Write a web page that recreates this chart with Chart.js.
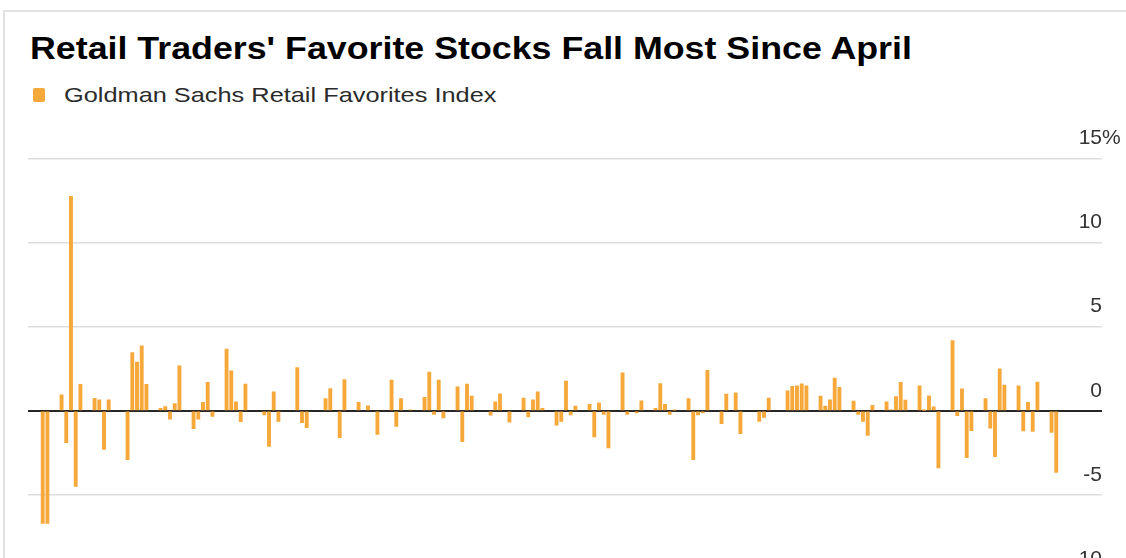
<!DOCTYPE html>
<html>
<head>
<meta charset="utf-8">
<script src="https://cdn.jsdelivr.net/npm/chart.js@4"></script>
<style>
  html, body { margin: 0; padding: 0; background: #fff; width: 1126px; height: 558px; overflow: hidden; }
  #frame { position: absolute; left: 3px; top: 10px; width: 1200px; height: 700px;
           border-top: 2px solid #e2e2e2; border-left: 2px solid #e2e2e2; }
  #title { position: absolute; left: 30px; top: 32px; font: bold 32px "Liberation Sans", Arial, sans-serif;
           line-height: 32px; color: #000; white-space: nowrap; transform-origin: 0 0; }
  #key { position: absolute; left: 33px; top: 88px; width: 12px; height: 14px; border-radius: 2px; }
  #keyText { position: absolute; left: 64px; top: 84px; font: 21px "Liberation Sans", Arial, sans-serif;
             line-height: 21px; color: #2b2b2b; white-space: nowrap; transform-origin: 0 0; }
  canvas { position: absolute; left: 0; top: 0; }
</style>
</head>
<body>
<div id="frame"></div>
<div id="title"></div>
<div id="key"></div>
<div id="keyText"></div>
<canvas id="chart" width="1126" height="600"></canvas>
<script>
const chartTitle = "Retail Traders' Favorite Stocks Fall Most Since April";
const seriesName = 'Goldman Sachs Retail Favorites Index';
const barColor = 'rgb(246,168,58)';

// one slot per calendar day, weekends empty; the first day is a Thursday
const dailyChange = [
  -6.7, -6.7, null, null,
  0.95, -1.9, 12.75, -4.5, 1.58, null, null,
  0.74, 0.65, -2.3, 0.65, null, null, null,
  -2.9, 3.46, 2.9, 3.86, 1.58, null, null,
  0.15, 0.25, -0.5, 0.43, 2.67, null, null,
  -1.06, -0.5, 0.5, 1.69, -0.34, null, null,
  3.67, 2.38, 0.54, -0.65, 1.59, null, null,
  null, -0.24, -2.12, 1.13, -0.63, null, null,
  null, 2.57, -0.7, -1.0, null, null, null,
  0.73, 1.32, null, -1.6, 1.86, null, null,
  0.5, null, 0.3, null, -1.4, null, null,
  1.82, -0.93, 0.73, null, 0.05, null, null,
  0.8, 2.3, -0.22, 1.83, -0.42, null, null,
  1.43, -1.83, 1.59, 0.87, null, null, null,
  -0.26, 0.54, 1.01, null, -0.68, null, null,
  0.75, -0.37, 0.65, 1.13, 0.14, null, null,
  -0.86, -0.63, 1.77, -0.24, 0.28, null, null,
  0.38, -1.56, 0.48, -0.22, -2.2, null, null,
  2.26, -0.22, null, -0.12, 0.59, null, null,
  0.14, 1.62, 0.38, -0.22, 0.04, null, null,
  0.72, -2.9, -0.24, -0.12, 2.4, null, null,
  -0.77, 0.99, null, 1.07, -1.36, null, null,
  null, -0.63, -0.4, 0.75, null, null, null,
  1.19, 1.45, 1.49, 1.61, 1.49, null, null,
  0.87, 0.28, 0.65, 1.94, 1.39, null, null,
  0.58, -0.22, -0.63, -1.47, 0.33, null, null,
  0.54, 0.06, 0.85, 1.69, 0.63, null, null,
  1.49, 0.03, 0.89, 0.24, -3.4, null, null,
  4.17, -0.29, 1.31, -2.78, -1.18, null, null,
  0.73, -1.03, -2.72, 2.5, 1.53, null, null,
  1.49, -1.19, 0.5, -1.23, 1.71, null, null,
  -1.29, -3.67
];

const yTicks = [-10, -5, 0, 5, 10, 15];
const yUnit = '%';

const labelShift = -20;
const tickFont = { family: '"Liberation Sans", Arial, sans-serif', size: 21 };

document.querySelector('#title').textContent = chartTitle;
document.querySelector('#keyText').textContent = seriesName;
document.querySelector('#key').style.background = barColor;

function fitWidth(el, target) {
  el.style.transform = 'scaleX(' + (target / el.offsetWidth) + ')';
}
fitWidth(document.querySelector('#title'), 882);
fitWidth(document.querySelector('#keyText'), 432);

// the unit hangs past the right edge of the top label
const unitSign = {
  id: 'unitSign',
  afterDraw(chart) {
    const y = chart.scales.y;
    const ctx = chart.ctx;
    ctx.save();
    ctx.font = tickFont.size + 'px ' + tickFont.family;
    ctx.fillStyle = '#333';
    ctx.textAlign = 'left';
    ctx.textBaseline = 'middle';
    ctx.fillText(yUnit, y.left, y.getPixelForValue(yTicks[yTicks.length - 1]) + labelShift);
    ctx.restore();
  }
};

new Chart(document.querySelector('#chart'), {
  type: 'bar',
  data: {
    datasets: [{
      label: seriesName,
      data: dailyChange.map((v, i) => ({ x: i, y: v })),
      backgroundColor: barColor,
      borderWidth: 0,
      barThickness: 3.2
    }]
  },
  options: {
    responsive: false,
    animation: false,
    devicePixelRatio: 1,
    layout: { padding: { left: 28, right: 24, top: 158.5, bottom: 21 } },
    plugins: { legend: { display: false }, tooltip: { enabled: false } },
    scales: {
      x: {
        type: 'linear',
        display: false,
        offset: false,
        min: -3.12,
        max: 224.7
      },
      y: {
        position: 'right',
        min: -10,
        max: 15,
        afterBuildTicks: function(scale) {
          scale.ticks = yTicks.map(v => ({ value: v }));
        },
        border: { display: false },
        grid: {
          drawTicks: false,
          color: ctx => ctx.tick.value === 0 ? '#262626' : '#dedede',
          lineWidth: ctx => ctx.tick.value === 0 ? 2 : 1.5
        },
        ticks: {
          mirror: true,
          padding: 0,
          labelOffset: labelShift,
          color: '#333',
          font: tickFont,
          callback: v => String(v)
        }
      }
    }
  },
  plugins: [unitSign]
});
</script>
</body>
</html>
